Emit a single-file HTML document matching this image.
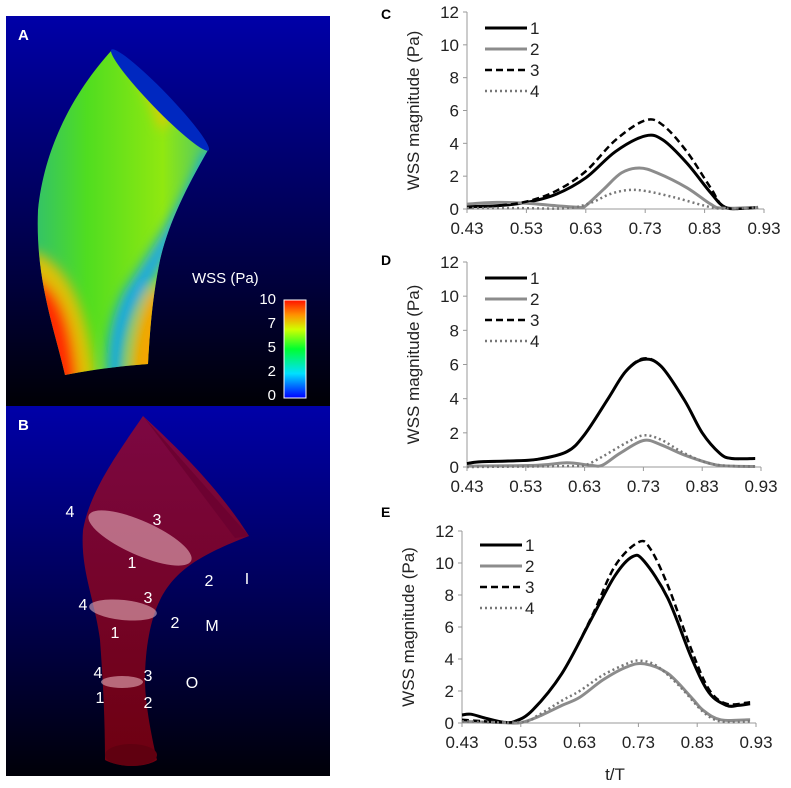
<!DOCTYPE html>
<html><head><meta charset="utf-8"><style>
body{margin:0;background:#fff;width:791px;height:788px;overflow:hidden;font-family:"Liberation Sans",sans-serif}
svg{position:absolute;left:0;top:0}
</style></head><body>
<svg width="791" height="788" viewBox="0 0 791 788">
<defs>
<linearGradient id="bgA" x1="0" y1="0" x2="0" y2="1"><stop offset="0" stop-color="#0000a8"/><stop offset="0.6" stop-color="#00004a"/><stop offset="1" stop-color="#000005"/></linearGradient>
<linearGradient id="bgB" x1="0" y1="0" x2="0" y2="1"><stop offset="0" stop-color="#0000a8"/><stop offset="0.5" stop-color="#000058"/><stop offset="1" stop-color="#000008"/></linearGradient>
<linearGradient id="cbar" x1="0" y1="1" x2="0" y2="0"><stop offset="0" stop-color="#0000ff"/><stop offset="0.25" stop-color="#00e0ff"/><stop offset="0.5" stop-color="#00ff30"/><stop offset="0.7" stop-color="#d0ff00"/><stop offset="0.85" stop-color="#ff9000"/><stop offset="1" stop-color="#ff1000"/></linearGradient>
<linearGradient id="vesA" x1="0" y1="0" x2="1" y2="0"><stop offset="0" stop-color="#30c070"/><stop offset="0.3" stop-color="#50dd20"/><stop offset="0.7" stop-color="#90e810"/><stop offset="1" stop-color="#40c080"/></linearGradient>
<linearGradient id="vesB" x1="0" y1="0" x2="0" y2="1"><stop offset="0" stop-color="#8a0838"/><stop offset="1" stop-color="#7a0010"/></linearGradient>
<filter id="blur" x="-20%" y="-20%" width="140%" height="140%"><feGaussianBlur stdDeviation="6"/></filter>
<clipPath id="clipA"><path d="M112,50 C80,85 45,140 38,210 C35,280 55,330 65,375 C90,370 120,366 148,364 C150,330 152,300 160,260 C168,225 185,190 208,150 C180,110 140,75 112,50 Z"/></clipPath>
</defs>
<!-- Panel A -->
<g>
<rect x="6" y="16" width="324" height="390" fill="url(#bgA)"/>
<g clip-path="url(#clipA)">
<rect x="30" y="40" width="190" height="340" fill="url(#vesA)"/>
<g filter="url(#blur)">
<path d="M30,250 C60,260 85,290 95,380 L30,385 Z" fill="#f0c000" opacity="0.9"/>
<path d="M30,275 C55,285 72,310 78,385 L30,385 Z" fill="#ff2a00"/>
<path d="M130,385 C130,340 140,310 150,290 L170,290 L170,385Z" fill="#ffa000" opacity="0.9"/>
<path d="M205,150 C185,200 155,245 125,290 C112,315 105,345 108,385 L122,385 C122,345 130,315 145,292 C170,255 195,205 214,158Z" fill="#10a0ff" opacity="0.9"/>
<path d="M130,65 C145,90 155,110 160,130 L172,120 C158,95 145,78 130,60Z" fill="#ffc000" opacity="0.7"/>
</g>
</g>
<ellipse cx="160" cy="100" rx="70" ry="9" transform="rotate(46 160 100)" fill="#0028c0"/>
<text x="18" y="40" fill="#fff" font-size="15" font-weight="bold">A</text>
<text x="192" y="283" fill="#fff" font-size="15">WSS (Pa)</text>
<rect x="284" y="300" width="22" height="98" fill="url(#cbar)" stroke="#fff" stroke-width="1"/>
<g fill="#fff" font-size="15" text-anchor="end">
<text x="276" y="304">10</text><text x="276" y="328">7</text><text x="276" y="352">5</text><text x="276" y="376">2</text><text x="276" y="400">0</text></g>
</g>
<!-- Panel B -->
<g>
<rect x="6" y="406" width="324" height="370" fill="url(#bgB)"/>
<path d="M143,416 C120,450 90,490 83,530 C80,570 95,600 100,640 C103,680 105,720 105,760 C120,768 145,768 157,760 C150,730 145,700 145,680 C145,650 150,620 160,600 C175,570 200,555 249,536 C220,490 180,450 143,416Z" fill="url(#vesB)" opacity="0.9"/>
<path d="M143,416 L249,536 L235,538 Z" fill="#6a0030" opacity="0.8"/>
<ellipse cx="131" cy="755" rx="26" ry="11" fill="#600010"/>
<g fill="#f0c0c8" opacity="0.55">
<ellipse cx="140" cy="538" rx="56" ry="17" transform="rotate(24 140 538)"/>
<ellipse cx="123" cy="610" rx="34" ry="10" transform="rotate(6 123 610)"/>
<ellipse cx="122" cy="682" rx="21" ry="6"/>
</g>
<text x="18" y="430" fill="#fff" font-size="15" font-weight="bold">B</text>
<g fill="#fff" font-size="16" text-anchor="middle">
<text x="70" y="517">4</text><text x="157" y="525">3</text><text x="132" y="568">1</text><text x="209" y="586">2</text><text x="247" y="584">I</text>
<text x="83" y="610">4</text><text x="148" y="603">3</text><text x="115" y="638">1</text><text x="175" y="628">2</text><text x="212" y="631">M</text>
<text x="98" y="678">4</text><text x="148" y="681">3</text><text x="192" y="688">O</text><text x="100" y="703">1</text><text x="148" y="708">2</text>
</g>
</g>
<text x="381" y="19" font-size="14" font-weight="bold">C</text>
<text x="381" y="265" font-size="14" font-weight="bold">D</text>
<text x="381" y="517" font-size="14" font-weight="bold">E</text>
<g id="charts"></g>
<text x="615" y="780" font-size="17" text-anchor="middle" fill="#222">t/T</text>
</svg>
<script>
const xTicks=[0.43,0.53,0.63,0.73,0.83,0.93];
const yTicks=[0,2,4,6,8,10,12];
const legendLabels=["1","2","3","4"];
const c1x=[0.43,0.48,0.53,0.58,0.63,0.68,0.73,0.76,0.80,0.84,0.865,0.90,0.92];
const c1y=[0.15,0.2,0.4,0.9,1.9,3.5,4.45,4.2,2.8,1.0,0.1,0.05,0.1];
const c2x=[0.43,0.48,0.53,0.58,0.62,0.63,0.66,0.69,0.72,0.75,0.80,0.84,0.86,0.92];
const c2y=[0.3,0.4,0.35,0.2,0.1,0.2,1.2,2.2,2.5,2.2,1.3,0.3,0.05,0.1];
const c3x=[0.43,0.48,0.53,0.58,0.63,0.68,0.73,0.76,0.80,0.84,0.865,0.92];
const c3y=[0.1,0.2,0.45,1.1,2.3,4.2,5.4,5.1,3.5,1.3,0.1,0.1];
const c4x=[0.43,0.52,0.60,0.64,0.67,0.70,0.73,0.78,0.83,0.86,0.92];
const c4y=[0.05,0.05,0.05,0.4,0.9,1.15,1.1,0.7,0.2,0.02,0.1];
const d1x=[0.43,0.45,0.50,0.55,0.60,0.63,0.67,0.70,0.73,0.76,0.80,0.83,0.86,0.88,0.92];
const d1y=[0.2,0.3,0.35,0.45,0.9,1.9,4.0,5.6,6.3,5.9,3.9,2.0,0.8,0.5,0.5];
const d2x=[0.43,0.55,0.60,0.64,0.66,0.69,0.73,0.76,0.80,0.85,0.88,0.92];
const d2y=[0.05,0.1,0.25,0.1,0.1,0.8,1.55,1.3,0.7,0.15,0.05,0.03];
const d3x=d1x;
const d3y=[0.2,0.3,0.35,0.45,0.9,1.9,4.0,5.6,6.35,5.9,3.9,2.0,0.8,0.5,0.5];
const d4x=[0.43,0.60,0.63,0.66,0.70,0.73,0.76,0.80,0.85,0.92];
const d4y=[0.0,0.05,0.1,0.6,1.4,1.85,1.6,0.8,0.15,0.03];
const e1x=[0.43,0.445,0.47,0.50,0.52,0.55,0.60,0.65,0.69,0.72,0.74,0.78,0.82,0.85,0.88,0.90,0.92];
const e1y=[0.5,0.55,0.3,0.05,0.1,0.8,3.1,6.5,9.2,10.4,10.1,7.8,4.1,1.9,1.1,1.1,1.2];
const e2x=[0.43,0.50,0.53,0.56,0.60,0.63,0.67,0.71,0.74,0.78,0.82,0.84,0.87,0.92];
const e2y=[0.1,0.02,0.02,0.4,1.1,1.6,2.7,3.5,3.7,3.1,1.6,0.8,0.2,0.2];
const e3x=[0.43,0.47,0.50,0.52,0.55,0.60,0.65,0.69,0.73,0.75,0.78,0.82,0.85,0.88,0.92];
const e3y=[0.2,0.1,0.05,0.1,0.8,3.1,6.6,9.8,11.3,10.9,8.6,4.6,2.1,1.2,1.3];
const e4x=[0.43,0.53,0.56,0.60,0.63,0.67,0.71,0.73,0.76,0.80,0.84,0.87,0.92];
const e4y=[0.1,0.05,0.5,1.4,2.0,3.0,3.7,3.9,3.6,2.3,0.7,0.1,0.1];

const NS="http://www.w3.org/2000/svg";
const root=document.getElementById('charts');
function mk(tag,attrs,parent){const e=document.createElementNS(NS,tag);for(const k in attrs)e.setAttribute(k,attrs[k]);parent.appendChild(e);return e;}
const styles=[
 {stroke:"#000",w:3,dash:""},
 {stroke:"#8c8c8c",w:3,dash:""},
 {stroke:"#000",w:2.5,dash:"7,4"},
 {stroke:"#777",w:2.5,dash:"2,3"}];
function smooth(pts){let d="M"+pts[0][0]+","+pts[0][1];for(let i=0;i<pts.length-1;i++){const p0=pts[Math.max(0,i-1)],p1=pts[i],p2=pts[i+1],p3=pts[Math.min(pts.length-1,i+2)];const c1=[p1[0]+(p2[0]-p0[0])/6,p1[1]+(p2[1]-p0[1])/6],c2=[p2[0]-(p3[0]-p1[0])/6,p2[1]-(p3[1]-p1[1])/6];d+=" C"+c1[0]+","+c1[1]+" "+c2[0]+","+c2[1]+" "+p2[0]+","+p2[1];}return d;}
function chart(name,x0,x1,y0,y12,series,legY){
 const g=mk('g',{},root);
 
 
 const sx=v=>x0+(v-0.43)/(0.93-0.43)*(x1-x0);
 const sy=v=>y0+(v/12)*(y12-y0);
 mk('line',{x1:x0,y1:y12,x2:x0,y2:y0,stroke:"#999","stroke-width":1},g);
 mk('line',{x1:x0,y1:y0,x2:x1,y2:y0,stroke:"#999","stroke-width":1},g);
 yTicks.forEach(t=>{mk('line',{x1:x0-4,y1:sy(t),x2:x0,y2:sy(t),stroke:"#999"},g);
  const tx=mk('text',{x:x0-8,y:sy(t)+6,"font-size":17,"text-anchor":"end",fill:"#222"},g);tx.textContent=t;
  
  });
 xTicks.forEach(t=>{mk('line',{x1:sx(t),y1:y0,x2:sx(t),y2:y0+4,stroke:"#999"},g);
  const tx=mk('text',{x:sx(t),y:y0+25,"font-size":17,"text-anchor":"middle",fill:"#222"},g);tx.textContent=t.toFixed(2);
  
  });
 const yl=mk('text',{x:0,y:0,"font-size":17,"text-anchor":"middle",fill:"#222",transform:`translate(${x0-48},${(y0+y12)/2}) rotate(-90)`},g);
 yl.textContent="WSS magnitude (Pa)";
 
 
 series.forEach((s,i)=>{const st=styles[i];
  const pts=s[0].map((xv,j)=>[sx(xv),sy(s[1][j])]);
  const p=mk('path',{d:smooth(pts),fill:"none",stroke:st.stroke,"stroke-width":st.w,"stroke-dasharray":st.dash},g);
  
  
  const ly=legY+i*21;
  const ll=mk('line',{x1:x0+18,y1:ly,x2:x0+60,y2:ly,stroke:st.stroke,"stroke-width":st.w,"stroke-dasharray":st.dash},g);
  
  
  const lt=mk('text',{x:x0+63,y:ly+6,"font-size":17,fill:"#222"},g);lt.textContent=legendLabels[i];
  
  });
}
chart('chart-c',467,764,209,12,[[c1x,c1y],[c2x,c2y],[c3x,c3y],[c4x,c4y]],28);
chart('chart-d',467,761,467,262,[[d1x,d1y],[d2x,d2y],[d3x,d3y],[d4x,d4y]],278);
chart('chart-e',462,756,723,531,[[e1x,e1y],[e2x,e2y],[e3x,e3y],[e4x,e4y]],545);
</script>
</body></html>
